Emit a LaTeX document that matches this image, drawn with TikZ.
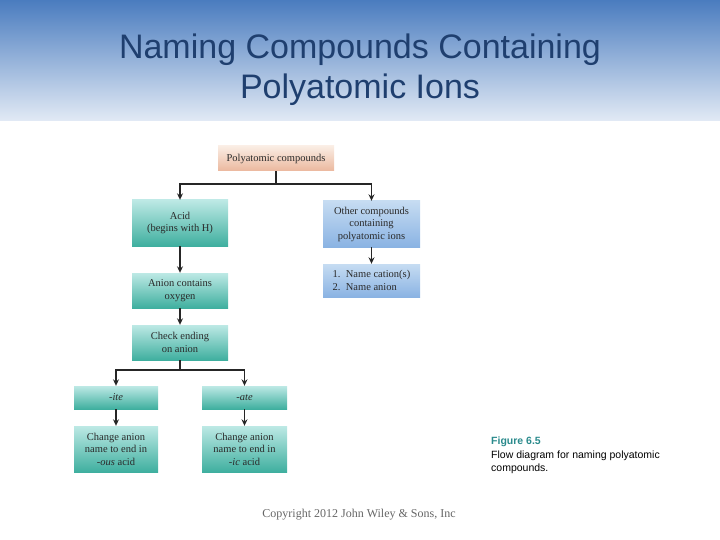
\documentclass[tikz,border=0pt]{standalone}
\usepackage{fontspec}
\setmainfont{Liberation Serif}
\newfontfamily\headfont{Liberation Sans}
\usetikzlibrary{positioning, arrows.meta}
\definecolor{titleblue}{HTML}{1F3F6F}
\definecolor{bandtop}{HTML}{4A7CBF}
\definecolor{bandbot}{HTML}{E2EAF5}
\definecolor{peachtop}{HTML}{FAEDE4}
\definecolor{peachbot}{HTML}{EBB89E}
\definecolor{tealtop}{HTML}{BDE9E5}
\definecolor{tealbot}{HTML}{3FAF9F}
\definecolor{bluetop}{HTML}{C6DCF2}
\definecolor{bluebot}{HTML}{8AB3E3}
\definecolor{figteal}{HTML}{2A8A8C}
\definecolor{boxtext}{HTML}{2A2A2A}
\begin{document}
\begin{tikzpicture}[x=1pt, y=-1pt, >={Stealth[length=6.5pt, width=6pt]},
    box/.style={inner sep=1pt, align=center, text=boxtext, font=\fontsize{10.5}{12.5}\selectfont},
    peach/.style={box, top color=peachtop, bottom color=peachbot},
    teal/.style={box, top color=tealtop, bottom color=tealbot},
    sky/.style={box, top color=bluetop, bottom color=bluebot},
    link/.style={->, line width=1.4pt, black!85}]
    \useasboundingbox (0,0) rectangle (720,540);

    % 标题栏
    \fill[top color=bandtop, bottom color=bandbot] (0,0) rectangle (720,121);
    \node[font=\headfont\fontsize{34}{40}\selectfont, text=titleblue, align=center] (title) at (360,70)
        {Naming Compounds Containing\\Polyatomic Ions};

    % 顶部
    \node[peach, minimum width=116, minimum height=25] (poly) at (276,158.5) {Polyatomic compounds};

    % 左侧: 酸
    \node[teal, minimum width=96, minimum height=46] (acid) at (180,223) {Acid\\(begins with H)};
    \node[teal, minimum width=96, minimum height=35] (oxy) at (180,290.5) {Anion contains\\oxygen};
    \node[teal, minimum width=96, minimum height=35] (check) at (180,342.5) {Check ending\\on anion};
    \node[teal, minimum width=84, minimum height=23] (ite) at (116,397.5) {\textit{-ite}};
    \node[teal, minimum width=85, minimum height=23] (ate) at (244.5,397.5) {\textit{-ate}};
    \node[teal, minimum width=84, minimum height=46] (ous) at (116,449) {Change anion\\name to end in\\\textit{-ous} acid};
    \node[teal, minimum width=85, minimum height=46] (ic) at (244.5,449) {Change anion\\name to end in\\\textit{-ic} acid};

    % 右侧: 其他化合物
    \node[sky, minimum width=97, minimum height=46] (other) at (371.5,224) {Other compounds\\containing\\polyatomic ions};
    \node[sky, minimum width=97, minimum height=33, align=left] (steps) at (371.5,280.5) {1.\enspace Name cation(s)\\2.\enspace Name anion};

    % 箭头
    \coordinate (split) at (276,184);
    \draw[link] (poly.south) -- (split) -| (acid.north);
    \draw[link] (split) -| (other.north);
    \draw[link] (acid) -- (oxy);
    \draw[link] (oxy) -- (check);
    \draw[link] (other) -- (steps);
    \coordinate (fork) at (180,370);
    \draw[link] (check.south) -- (fork) -| (ite.north);
    \draw[link] (fork) -| (ate.north);
    \draw[link] (ite) -- (ous);
    \draw[link] (ate) -- (ic);

    % 图注
    \node[anchor=north west, inner sep=0pt, align=left, font=\headfont\fontsize{10.5}{13.5}\selectfont] (caption) at (491,437)
        {{\color{figteal}\bfseries Figure 6.5}\\Flow diagram for naming polyatomic\\compounds.};
    \node[font=\fontsize{12}{14}\selectfont, text=black!60] (copy) at (359,515) {Copyright 2012 John Wiley \& Sons, Inc};

\end{tikzpicture}
\end{document}
